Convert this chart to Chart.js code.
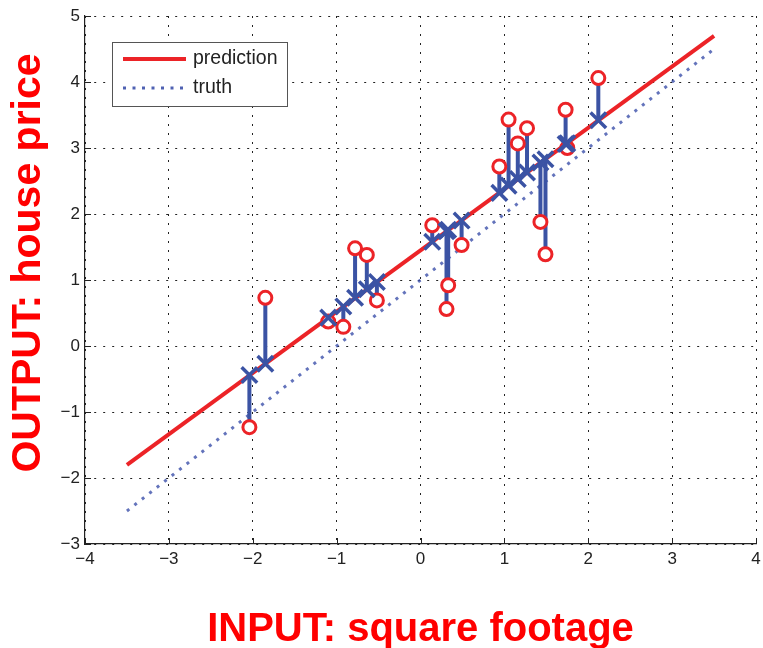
<!DOCTYPE html>
<html>
<head>
<meta charset="utf-8">
<script src="https://cdn.jsdelivr.net/npm/chart.js@4.4.1/dist/chart.umd.min.js"></script>
<style>
  body { margin: 0; background: #fff; }
  canvas { display: block; }
</style>
</head>
<body>
<canvas id="myChart" width="763" height="648"></canvas>
<script>
// house data: square footage (x), observed price, fitted price
const sqft = [-2.04, -1.85, -1.10, -0.92, -0.78, -0.64, -0.52, 0.14, 0.31, 0.33,
              0.49, 0.94, 1.05, 1.16, 1.27, 1.43, 1.49, 1.73, 1.75, 2.12];
const priceObserved = [-1.23, 0.73, 0.37, 0.29, 1.48, 1.38, 0.69, 1.83, 0.56, 0.92,
                       1.53, 2.72, 3.43, 3.07, 3.30, 1.88, 1.39, 3.58, 3.00, 4.06];
const pricePredicted = [-0.44, -0.27, 0.43, 0.60, 0.73, 0.86, 0.97, 1.58, 1.74, 1.76,
                        1.90, 2.32, 2.43, 2.53, 2.63, 2.78, 2.83, 3.06, 3.07, 3.42];

// end points of the two lines
const lineX = [-3.5, 3.5];
const predictionY = [-1.8, 4.7];
const truthY = [-2.5, 4.5];

const xTicks = [-4, -3, -2, -1, 0, 1, 2, 3, 4];
const yTicks = [-3, -2, -1, 0, 1, 2, 3, 4, 5];

const RED = '#ec2327';
const BLUE = '#3b53a4';
const FONT = "'Liberation Sans', Arial, Helvetica, sans-serif";

function pairs(xs, ys) {
  return xs.map((x, i) => ({x: x, y: ys[i]}));
}

// one segment per house, separated by null gaps
let residuals = [];
for (let i = 0; i < sqft.length; i++) {
  residuals.push({x: sqft[i], y: pricePredicted[i]});
  residuals.push({x: sqft[i], y: priceObserved[i]});
  residuals.push({x: sqft[i], y: null});
}

function minusSign(v) {
  return String(v).replace('-', '\u2212');
}

// inward ticks, legend box and the big red axis titles
const decorPlugin = {
  id: 'decor',
  afterDraw(chart) {
    let ctx = chart.ctx;
    let area = chart.chartArea;
    let xs = chart.scales.x;
    let ys = chart.scales.y;
    ctx.save();

    ctx.strokeStyle = '#222';
    ctx.lineWidth = 1;
    ctx.setLineDash([]);
    xTicks.forEach(v => {
      let px = Math.round(xs.getPixelForValue(v)) + 0.5;
      ctx.beginPath();
      ctx.moveTo(px, area.bottom);
      ctx.lineTo(px, area.bottom - 6);
      ctx.stroke();
    });
    yTicks.forEach(v => {
      let py = Math.round(ys.getPixelForValue(v)) + 0.5;
      ctx.beginPath();
      ctx.moveTo(area.left, py);
      ctx.lineTo(area.left + 6, py);
      ctx.stroke();
    });

    // legend
    ctx.fillStyle = '#fff';
    ctx.fillRect(112, 42, 176, 65);
    ctx.strokeStyle = '#555';
    ctx.lineWidth = 1;
    ctx.strokeRect(112.5, 42.5, 175, 64);

    ctx.strokeStyle = RED;
    ctx.lineWidth = 4;
    ctx.beginPath();
    ctx.moveTo(123, 59);
    ctx.lineTo(186, 59);
    ctx.stroke();

    ctx.strokeStyle = 'rgba(60, 80, 170, 0.9)';
    ctx.lineWidth = 3;
    ctx.setLineDash([3, 6.5]);
    ctx.beginPath();
    ctx.moveTo(123, 88);
    ctx.lineTo(186, 88);
    ctx.stroke();
    ctx.setLineDash([]);

    ctx.fillStyle = '#222';
    ctx.font = '19.5px ' + FONT;
    ctx.textAlign = 'left';
    ctx.textBaseline = 'middle';
    ctx.fillText('prediction', 193, 59);
    ctx.fillText('truth', 193, 88);

    // axis titles
    ctx.fillStyle = '#ff0000';
    ctx.font = 'bold 40px ' + FONT;
    ctx.textAlign = 'center';
    ctx.textBaseline = 'alphabetic';
    ctx.fillText('INPUT: square footage', (area.left + area.right) / 2, 641);

    ctx.font = 'bold 41px ' + FONT;
    ctx.translate(40, 263);
    ctx.rotate(-Math.PI / 2);
    ctx.fillText('OUTPUT: house price', 0, 0);
    ctx.restore();
  }
};

new Chart('myChart', {
  type: 'scatter',
  data: {
    datasets: [
      {
        label: 'truth',
        data: pairs(lineX, truthY),
        showLine: true,
        borderColor: 'rgba(60, 80, 170, 0.8)',
        borderWidth: 3,
        borderDash: [3, 6.5],
        pointRadius: 0,
        order: 5
      },
      {
        label: 'prediction',
        data: pairs(lineX, predictionY),
        showLine: true,
        borderColor: RED,
        borderWidth: 4,
        pointRadius: 0,
        order: 4
      },
      {
        label: 'residual',
        data: residuals,
        showLine: true,
        spanGaps: false,
        borderColor: BLUE,
        borderWidth: 4,
        pointRadius: 0,
        order: 3
      },
      {
        label: 'observed',
        data: pairs(sqft, priceObserved),
        pointStyle: 'circle',
        pointRadius: 6.5,
        borderWidth: 3,
        borderColor: RED,
        backgroundColor: '#fff',
        order: 2
      },
      {
        label: 'fitted',
        data: pairs(sqft, pricePredicted),
        pointStyle: 'crossRot',
        pointRadius: 11,
        borderWidth: 3.5,
        borderColor: BLUE,
        backgroundColor: BLUE,
        order: 1
      }
    ]
  },
  options: {
    responsive: false,
    animation: false,
    layout: {
      autoPadding: false,
      padding: {top: 16, right: 0, left: 0, bottom: 0}
    },
    plugins: {
      legend: { display: false },
      tooltip: { enabled: false }
    },
    scales: {
      x: {
        type: 'linear',
        min: -4,
        max: 4,
        afterBuildTicks: (scale) => { scale.ticks = xTicks.map(v => ({value: v})); },
        afterFit: (scale) => {
          scale.height = 104;
          scale.paddingLeft = 0;
          scale.paddingRight = 7;
        },
        grid: { color: '#222', lineWidth: 1, drawTicks: false },
        border: { display: true, color: '#222', width: 1.2, dash: [2, 7] },
        ticks: {
          padding: 5,
          color: '#222',
          font: { size: 17, family: FONT },
          maxRotation: 0,
          callback: minusSign
        }
      },
      y: {
        type: 'linear',
        min: -3,
        max: 5,
        afterBuildTicks: (scale) => { scale.ticks = yTicks.map(v => ({value: v})); },
        afterFit: (scale) => { scale.width = 85; },
        grid: { color: '#222', lineWidth: 1, drawTicks: false },
        border: { display: true, color: '#222', width: 1.2, dash: [2, 7] },
        ticks: {
          padding: 5,
          color: '#222',
          font: { size: 17, family: FONT },
          callback: minusSign
        }
      }
    }
  },
  plugins: [decorPlugin]
});
</script>
</body>
</html>
